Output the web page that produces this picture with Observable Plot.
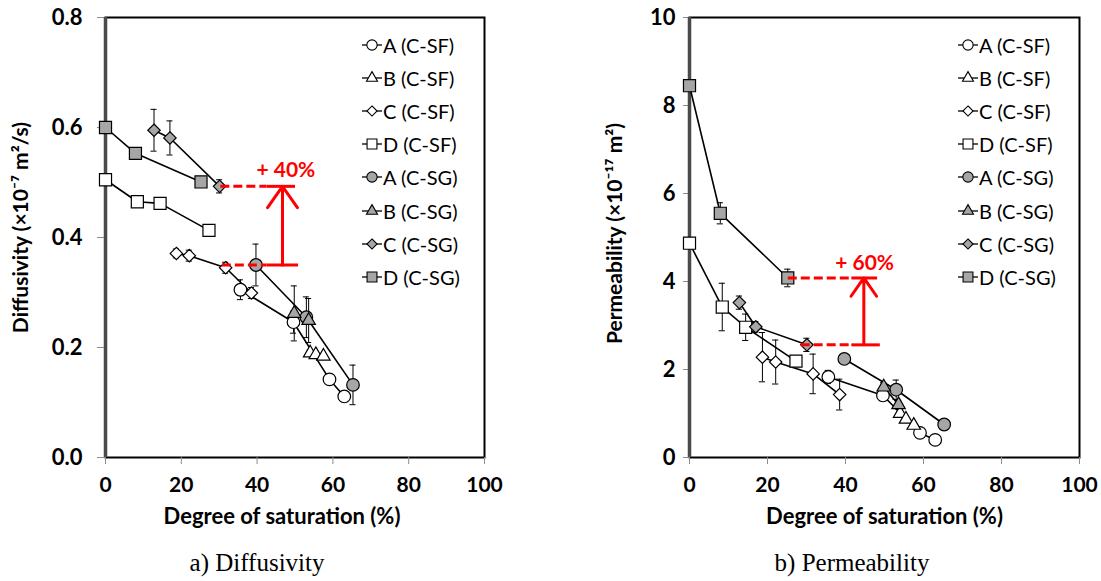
<!DOCTYPE html>
<html><head><meta charset="utf-8">
<script src="https://cdn.jsdelivr.net/npm/d3@7"></script>
<script src="https://cdn.jsdelivr.net/npm/@observablehq/plot@0.6"></script>
<style>
body{margin:0;background:#fff;}
#wrap{position:relative;width:1101px;height:581px;overflow:hidden;}
.panel{position:absolute;top:0;}
.cap{position:absolute;font-family:"Liberation Serif","Times New Roman",serif;font-size:25px;transform:translate(-50%,-50%);white-space:nowrap;color:#000;}
.legend{position:absolute;font-family:Lato,"Noto Sans",sans-serif;font-size:20px;color:#000;}
.legend .row{display:flex;align-items:center;height:33.1px;white-space:nowrap;}
.legend svg{display:block;overflow:visible;}
</style>
</head><body>
<div id="wrap"></div>
<script>
// ---------- data ----------
const seriesNames = ["A (C-SF)","B (C-SF)","C (C-SF)","D (C-SF)","A (C-SG)","B (C-SG)","C (C-SG)","D (C-SG)"];
const seriesSymbols = ["circle","triangle","diamond2","square","circle","triangle","diamond2","square"];
const seriesFills = ["white","white","white","white","#a6a6a6","#a6a6a6","#a6a6a6","#a6a6a6"];

// degree of saturation (%) of each measurement, per series
const saturation = [
  [35.6, 49.6, 59.1, 63.0],
  [54.0, 55.5, 57.5],
  [18.7, 22.1, 31.7, 38.5],
  [0, 8.4, 14.4, 27.3],
  [39.7, 53.0, 65.3],
  [49.8, 53.6],
  [12.8, 17.0, 30.1],
  [0, 7.9, 25.2]
];
// diffusivity (x1e-7 m2/s)
const diffusivity = [
  [0.305, 0.246, 0.142, 0.111],
  [0.190, 0.187, 0.184],
  [0.371, 0.367, 0.345, 0.299],
  [0.505, 0.465, 0.462, 0.413],
  [0.350, 0.255, 0.132],
  [0.262, 0.249],
  [0.595, 0.581, 0.493],
  [0.600, 0.553, 0.501]
];
const diffusivityErr = [
  [0.018, 0.020, 0.008, 0.008],
  [0.005, 0.005, 0.005],
  [0.008, 0.010, 0.010, 0.010],
  [0, 0, 0, 0],
  [0.038, 0.037, 0.036],
  [0.050, 0.040],
  [0.038, 0.031, 0.012],
  [0, 0, 0]
];
// permeability (x1e-17 m2)
const permeability = [
  [1.83, 1.41, 0.56, 0.40],
  [1.00, 0.87, 0.73],
  [2.28, 2.17, 1.90, 1.43],
  [4.87, 3.42, 2.96, 2.19],
  [2.24, 1.54, 0.75],
  [1.60, 1.20],
  [3.52, 2.97, 2.56],
  [8.45, 5.55, 4.08]
];
const permeabilityErr = [
  [0.15, 0.12, 0.05, 0.05],
  [0.05, 0.05, 0.05],
  [0.56, 0.50, 0.45, 0.35],
  [0, 0.54, 0.30, 0.05],
  [0.05, 0.22, 0.05],
  [0.10, 0.10],
  [0.15, 0.12, 0.15],
  [0, 0.24, 0.20]
];

const xTicks = [0, 20, 40, 60, 80, 100];
const diffTicks = [0, 0.2, 0.4, 0.6, 0.8];
const permTicks = [0, 2, 4, 6, 8, 10];

// red "gain" annotations
const diffGain = {label: "+ 40%", labelX: 47.6, labelY: 0.522, arrowX: 46.7, low: 0.350, high: 0.493,
                  highFrom: 30.3, highTo: 50.0, lowFrom: 30.7, lowTo: 50.8, solidFrom: 42.5};
const permGain = {label: "+ 60%", labelX: 44.9, labelY: 4.41, arrowX: 44.7, low: 2.56, high: 4.08,
                  highFrom: 25.2, highTo: 48.1, lowFrom: 28.5, lowTo: 48.8, solidFrom: 41.5};

// ---------- drawing ----------
const FONT = "Lato, 'Noto Sans', sans-serif";
const symbolR = {circle: 6.3, square: 6.8, diamond2: 5.6, triangle: 5.0};
const d3Sym = {circle: d3.symbolCircle, square: d3.symbolSquare, diamond2: d3.symbolDiamond2, triangle: d3.symbolTriangle};

function makePanel(cfg) {
  const rows = [];
  seriesNames.forEach((name, s) => saturation[s].forEach((x, i) =>
    rows.push({s, name, x, y: cfg.values[s][i], e: cfg.errors[s][i]})));
  const eb = rows.filter(r => r.e > 0);
  const a = cfg.gain;
  const marks = [
    Plot.frame({stroke: "black", strokeWidth: 2}),
    Plot.axisY({ticks: cfg.ticks, tickSize: cfg.tickSizeY, tickPadding: cfg.tickPaddingY, tickFormat: cfg.tickFormat,
      stroke: "#8c8c8c", fill: "black", fontSize: 22, fontWeight: "bold", fontFamily: FONT, label: null}),
    Plot.axisX({ticks: xTicks, tickSize: 7, tickPadding: 13, tickFormat: d3.format("d"),
      stroke: "#8c8c8c", fill: "black", fontSize: 21, fontWeight: "bold", fontFamily: FONT, label: null}),
    Plot.text(["Degree of saturation (%)"], {frameAnchor: "bottom", lineAnchor: "middle", dy: 59, dx: cfg.xLabelDx, fontSize: 22, fontWeight: "bold", fontFamily: FONT, fill: "black"}),
    Plot.text([cfg.yLabel], {frameAnchor: "left", textAnchor: "middle", rotate: -90, dx: cfg.yLabelDx, dy: cfg.yLabelDy, fontSize: 21, fontWeight: "bold", fontFamily: FONT, fill: "black"}),
    Plot.ruleX([0], {stroke: "#4a4a4a", strokeWidth: 3.5}),
    ...seriesNames.map((n, s) => Plot.line(rows.filter(r => r.s === s), {x: "x", y: "y", stroke: "black", strokeWidth: 1.6})),
    Plot.ruleX(eb, {x: "x", y1: r => r.y - r.e, y2: r => r.y + r.e, stroke: "black", strokeWidth: 1}),
    Plot.ruleY(eb, {y: r => r.y + r.e, x1: r => r.x - 0.8, x2: r => r.x + 0.8, stroke: "black", strokeWidth: 1}),
    Plot.ruleY(eb, {y: r => r.y - r.e, x1: r => r.x - 0.8, x2: r => r.x + 0.8, stroke: "black", strokeWidth: 1}),
    ...seriesNames.map((n, s) => Plot.dot(rows.filter(r => r.s === s), {x: "x", y: "y", symbol: seriesSymbols[s],
      r: symbolR[seriesSymbols[s]], fill: seriesFills[s], stroke: "black", strokeWidth: 1.2})),
    // annotation
    Plot.link([a], {x1: d => d.highFrom, x2: d => d.solidFrom, y1: d => d.high, y2: d => d.high, stroke: "#ff0000", strokeWidth: 3, strokeDasharray: "9,4"}),
    Plot.link([a], {x1: d => d.solidFrom, x2: d => d.highTo, y1: d => d.high, y2: d => d.high, stroke: "#ff0000", strokeWidth: 3}),
    Plot.link([a], {x1: d => d.lowFrom, x2: d => d.solidFrom, y1: d => d.low, y2: d => d.low, stroke: "#ff0000", strokeWidth: 3, strokeDasharray: "9,4"}),
    Plot.link([a], {x1: d => d.solidFrom, x2: d => d.lowTo, y1: d => d.low, y2: d => d.low, stroke: "#ff0000", strokeWidth: 3}),
    Plot.arrow([a], {x1: d => d.arrowX, x2: d => d.arrowX, y1: d => d.low, y2: d => d.high, stroke: "#ff0000", strokeWidth: 3, headLength: 13, headAngle: 70}),
    Plot.text([a], {x: d => d.labelX, y: d => d.labelY, text: d => d.label, fill: "#ff0000", fontSize: 21, fontWeight: "bold", fontFamily: FONT})
  ];
  return Plot.plot({
    width: cfg.width, height: 527,
    marginLeft: cfg.marginLeft, marginRight: cfg.marginRight, marginTop: 17, marginBottom: 70,
    style: {fontFamily: FONT, background: "white", overflow: "visible"},
    x: {domain: [0, 100]},
    y: {domain: cfg.domain},
    marks
  });
}

function makeLegend(left, top) {
  const div = document.createElement("div");
  div.className = "legend";
  div.style.left = left + "px";
  div.style.top = top + "px";
  seriesNames.forEach((name, s) => {
    const row = document.createElement("div");
    row.className = "row";
    const r = symbolR[seriesSymbols[s]] * 0.82;
    const path = d3.symbol(d3Sym[seriesSymbols[s]], Math.PI * r * r)();
    row.innerHTML = `<svg width="22" height="18" viewBox="-11 -9 22 18"><line x1="-10" x2="10" y1="0" y2="0" stroke="black" stroke-width="1.3"/><path d="${path}" fill="${seriesFills[s]}" stroke="black" stroke-width="1.1"/></svg><span>${name}</span>`;
    div.appendChild(row);
  });
  return div;
}

const wrap = document.getElementById("wrap");

const left = makePanel({width: 550, marginLeft: 105, marginRight: 66, domain: [0, 0.8], ticks: diffTicks,
  tickFormat: d3.format(".1f"), tickSizeY: 8, tickPaddingY: 15, values: diffusivity, errors: diffusivityErr,
  yLabel: "Diffusivity (×10⁻⁷ m²/s)", yLabelDx: -84, yLabelDy: -10, xLabelDx: -13, gain: diffGain});
left.classList.add("panel"); left.style.left = "0px";
wrap.appendChild(left);

const right = makePanel({width: 551, marginLeft: 139, marginRight: 22, domain: [0, 10], ticks: permTicks,
  tickFormat: d3.format("d"), tickSizeY: 6, tickPaddingY: 8, values: permeability, errors: permeabilityErr,
  yLabel: "Permeability (×10⁻¹⁷ m²)", yLabelDx: -74, yLabelDy: -4, xLabelDx: 0, gain: permGain});
right.classList.add("panel"); right.style.left = "550px";
wrap.appendChild(right);

wrap.appendChild(makeLegend(361, 28.5));
wrap.appendChild(makeLegend(957, 28.5));

const c1 = document.createElement("div"); c1.className = "cap"; c1.textContent = "a) Diffusivity";
c1.style.left = "257px"; c1.style.top = "563px"; wrap.appendChild(c1);
const c2 = document.createElement("div"); c2.className = "cap"; c2.textContent = "b) Permeability";
c2.style.left = "852px"; c2.style.top = "563px"; wrap.appendChild(c2);
</script>
</body></html>
